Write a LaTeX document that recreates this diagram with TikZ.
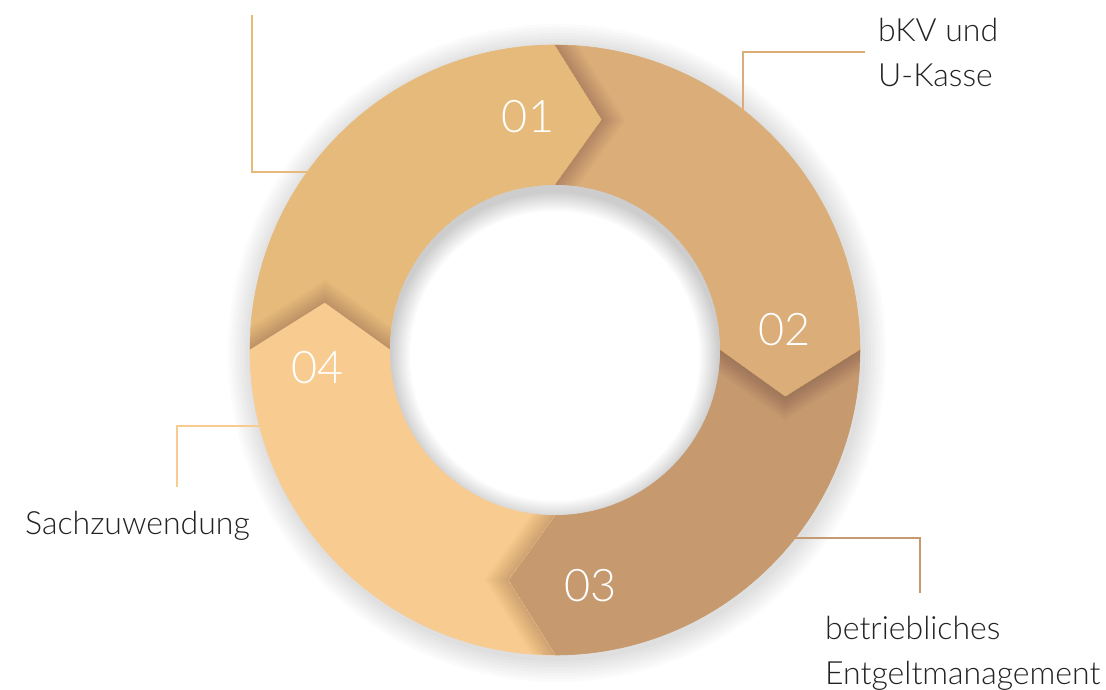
\documentclass[tikz,border=0pt]{standalone}
\usepackage{fontspec}
\setmainfont{Lato Light}
\usetikzlibrary{calc}
\definecolor{ringone}{HTML}{E6BA7A}
\definecolor{ringtwo}{HTML}{DBAD78}
\definecolor{ringthree}{HTML}{C69A6E}
\definecolor{ringfour}{HTML}{F8CB91}
\definecolor{labelgray}{HTML}{222222}

% the four ring pieces, each with a notch at its start and a point at its end
\newcommand{\pieceone}{(180:305pt) arc[start angle=180,end angle=90,radius=305pt] -- (78.5:235pt) -- (90:165pt) arc[start angle=90,end angle=180,radius=165pt] -- (168.5:235pt) -- cycle}
\newcommand{\piecetwo}{(90:305pt) arc[start angle=90,end angle=0,radius=305pt] -- (-11.5:235pt) -- (0:165pt) arc[start angle=0,end angle=90,radius=165pt] -- (78.5:235pt) -- cycle}
\newcommand{\piecethree}{(0:305pt) arc[start angle=0,end angle=-90,radius=305pt] -- (-101.5:235pt) -- (-90:165pt) arc[start angle=-90,end angle=0,radius=165pt] -- (-11.5:235pt) -- cycle}
\newcommand{\piecefour}{(-90:305pt) arc[start angle=-90,end angle=-180,radius=305pt] -- (-191.5:235pt) -- (-180:165pt) arc[start angle=-180,end angle=-90,radius=165pt] -- (-101.5:235pt) -- cycle}

\begin{document}
\begin{tikzpicture}[x=1pt,y=1pt,
    leader/.style={line width=2pt},
    chevshade/.style={draw=black,opacity=0.009,line join=miter},
    numtext/.style={text=white,font=\fontsize{45}{45}\selectfont,inner sep=0},
    labeltext/.style={text=labelgray,font=\fontsize{32}{45}\selectfont,align=left,inner sep=0}]

    \fill[white] (-555,-340) rectangle (551,350);
    \useasboundingbox (-555,-340) rectangle (551,350);

    % soft shadow round the ring
    \foreach \k in {1,...,8}
        \fill[black,opacity=0.015] (2,-3) circle[radius={(305+3*\k)*1pt}];

    % 01
    \filldraw[ringone,line width=0.6pt] \pieceone;
    \begin{scope}
        \clip \pieceone;
        \foreach \w in {2,4,...,40}
            \draw[chevshade,line width=\w pt] (180:305pt) -- (168.5:235pt) -- (180:165pt);
    \end{scope}

    % 02
    \filldraw[ringtwo,line width=0.6pt] \piecetwo;
    \begin{scope}
        \clip \piecetwo;
        \foreach \w in {2,4,...,40}
            \draw[chevshade,line width=\w pt] (90:305pt) -- (78.5:235pt) -- (90:165pt);
    \end{scope}

    % 03
    \filldraw[ringthree,line width=0.6pt] \piecethree;
    \begin{scope}
        \clip \piecethree;
        \foreach \w in {2,4,...,40}
            \draw[chevshade,line width=\w pt] (0:305pt) -- (-11.5:235pt) -- (0:165pt);
    \end{scope}

    % 04
    \filldraw[ringfour,line width=0.6pt] \piecefour;
    \begin{scope}
        \clip \piecefour;
        \foreach \w in {2,4,...,40}
            \draw[chevshade,line width=\w pt] (-90:305pt) -- (-101.5:235pt) -- (-90:165pt);
    \end{scope}

    % hole
    \fill[white] (0,0) circle[radius=165pt];
    \begin{scope}
        \clip (0,0) circle[radius=165pt];
        \foreach \k in {1,...,10}
            \fill[black,opacity=0.018,even odd rule] (0,0) circle[radius=170pt] (0,-6) circle[radius={(165-2*\k)*1pt}];
    \end{scope}

    \node[numtext] (num01) at (96.6:234.6pt) {01};
    \node[numtext] (num02) at (5:230pt) {02};
    \node[numtext] (num03) at (-81.3:238pt) {03};
    \node[numtext] (num04) at (184.3:237.7pt) {04};

    \node[labeltext,anchor=north west] (lblbkv) at (323,332) {bKV und\\U-Kasse};
    \node[labeltext,anchor=base west] (lblsach) at (-530,-185) {Sachzuwendung};
    \node[labeltext,anchor=north west] (lblentg) at (270,-266) {betriebliches\\Entgeltmanagement};

    \coordinate (ringa) at (144.3:305pt);
    \coordinate (ringb) at (51.9:305pt);
    \coordinate (ringc) at (-38.1:305pt);
    \coordinate (ringd) at (194.4:305pt);
    \coordinate (enda) at (-303,335);
    \coordinate (endc) at (365,-243);
    \coordinate (endd) at (-378,-137);

    \draw[leader,ringone] (ringa) -| (enda);
    \draw[leader,ringtwo,shorten >=13pt] (ringb) |- (lblbkv.west);
    \draw[leader,ringthree] (ringc) -| (endc);
    \draw[leader,ringfour] (ringd) -| (endd);
\end{tikzpicture}
\end{document}
